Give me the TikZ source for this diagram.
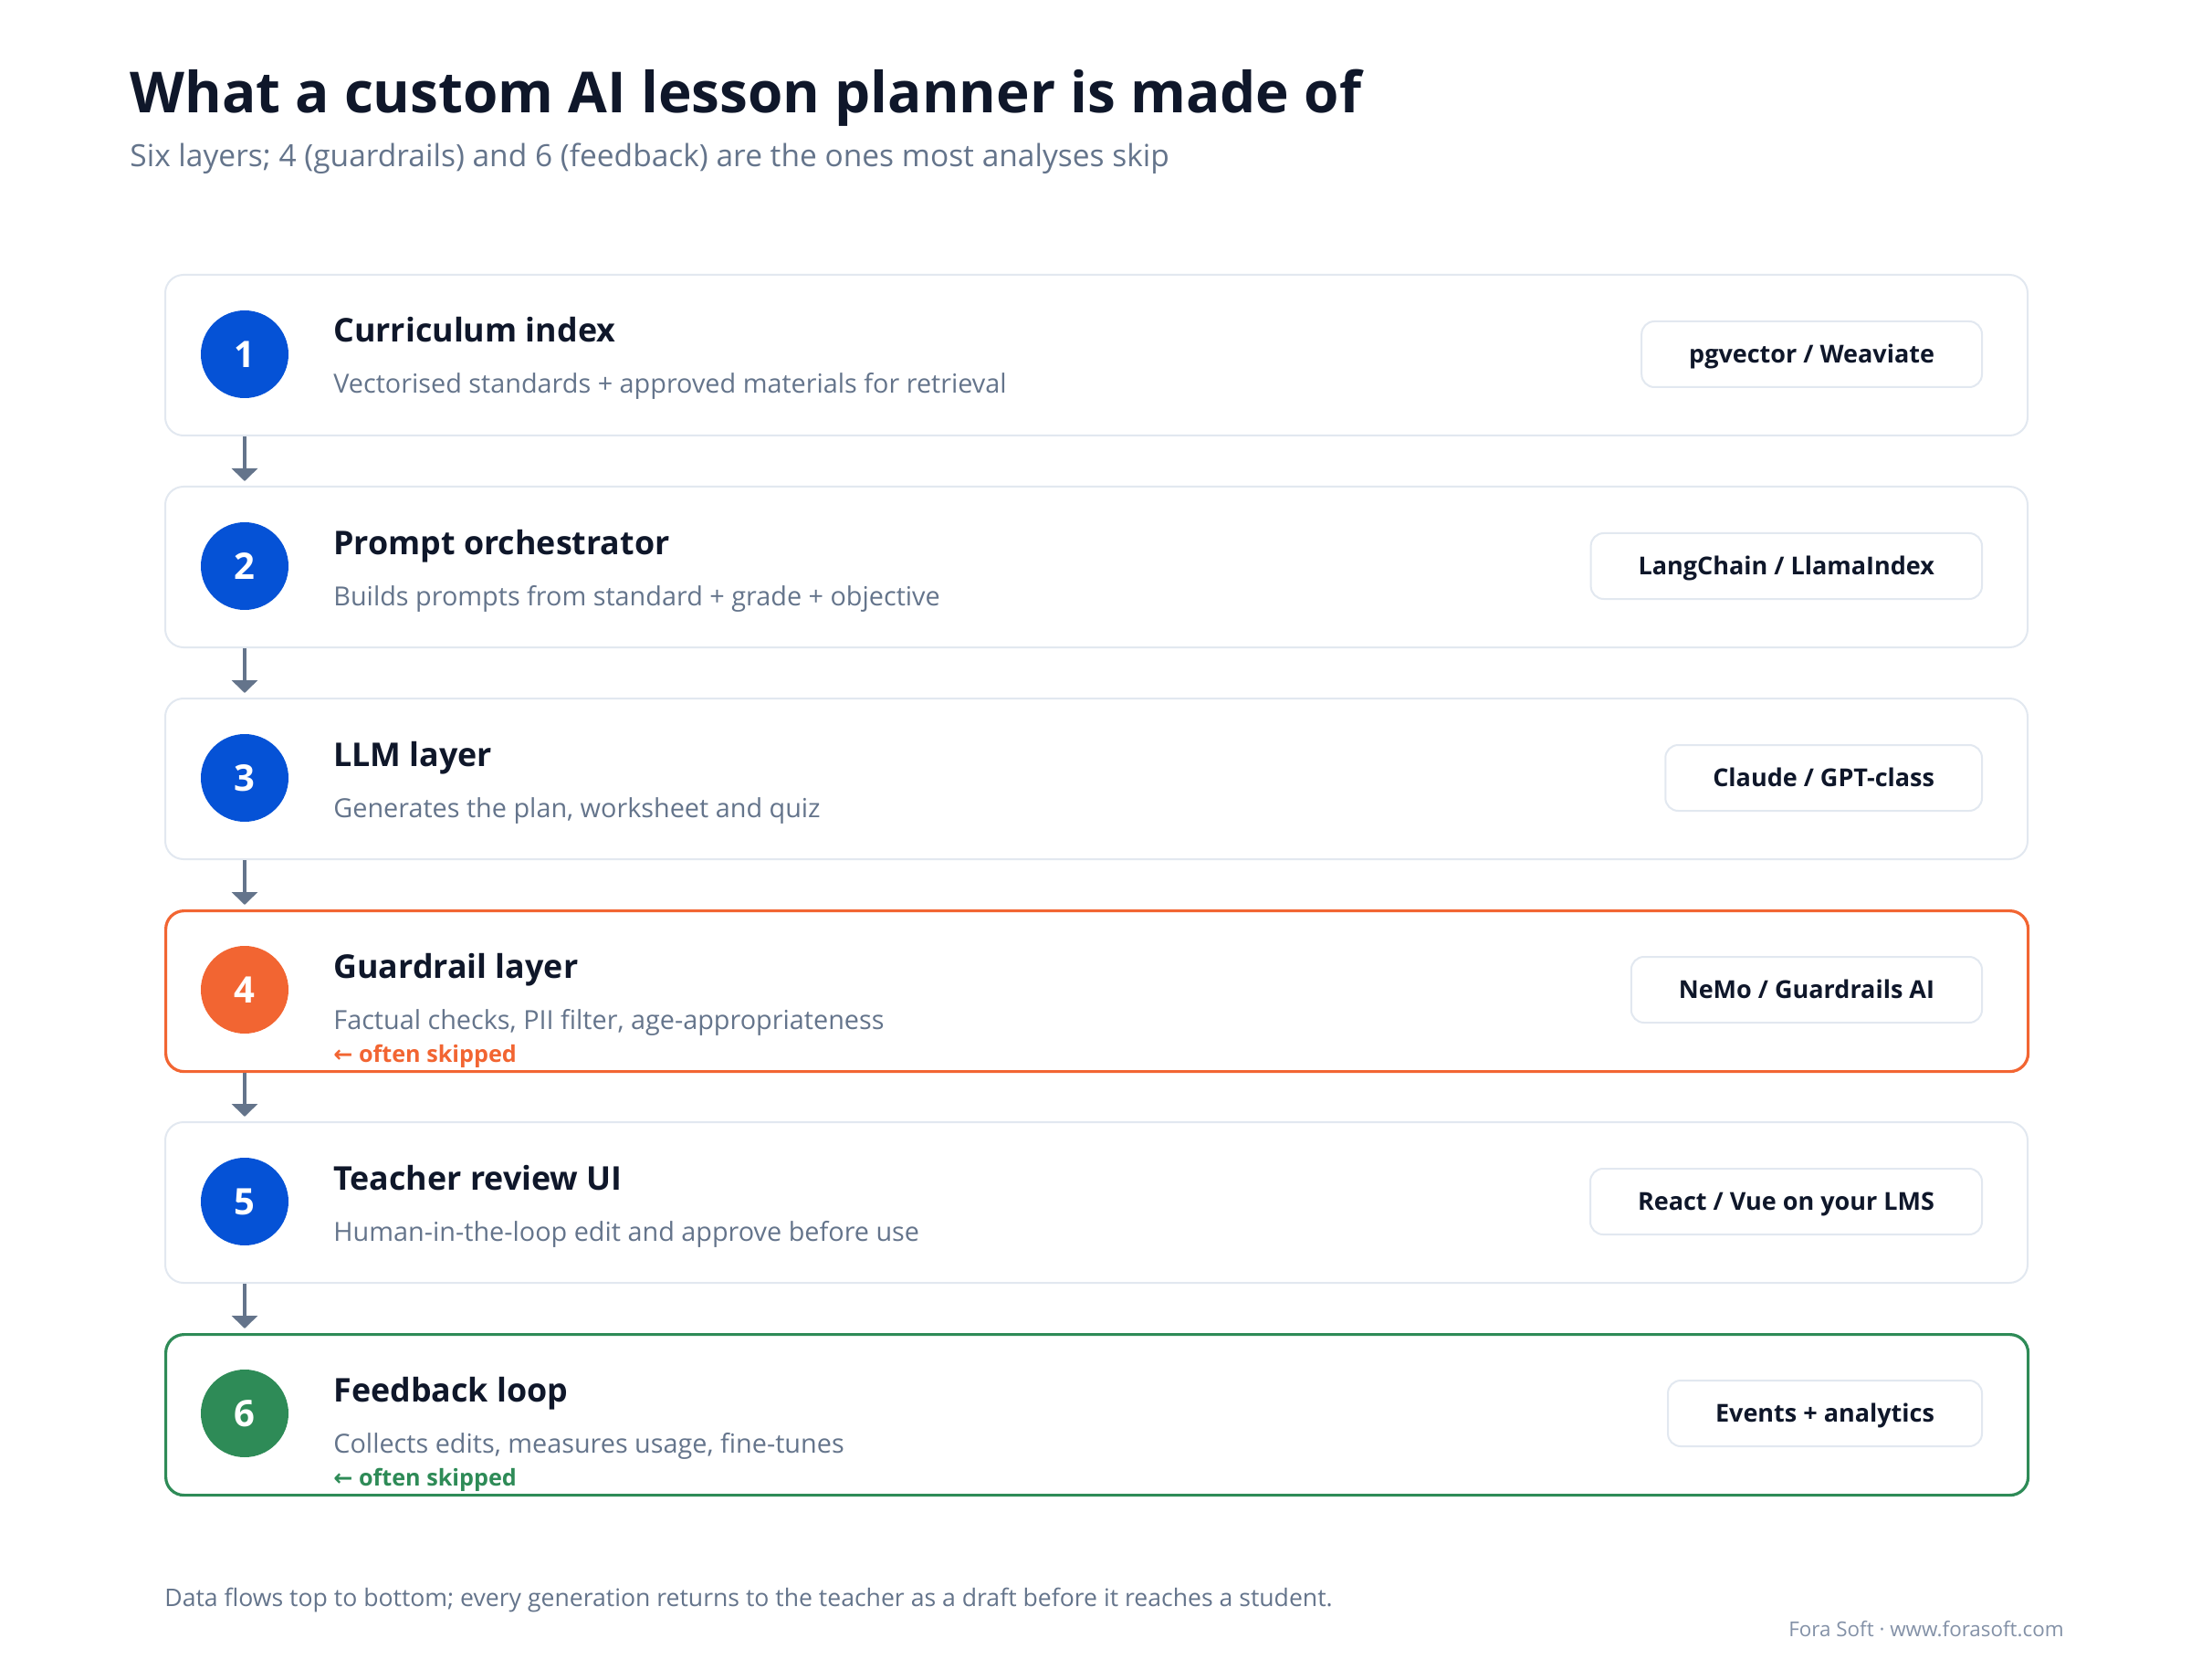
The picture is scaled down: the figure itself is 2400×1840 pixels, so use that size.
\documentclass[tikz,border=0pt]{standalone}
\usepackage{fontspec}
\setmainfont{Open Sans}
\newfontfamily\symfont{DejaVu Sans}
\usetikzlibrary{arrows.meta}
\definecolor{ink}{HTML}{0F172A}
\definecolor{slate}{HTML}{64748B}
\definecolor{softslate}{HTML}{8391A7}
\definecolor{cardline}{HTML}{E2E8F0}
\definecolor{blue1}{RGB}{5,82,214}
\definecolor{orange4}{RGB}{242,101,50}
\definecolor{green6}{RGB}{46,139,87}
\tikzset{
 card/.style={rectangle, rounded corners=10pt, minimum width=1020pt, minimum height=88pt, anchor=north west, inner sep=0pt, fill=white},
 cardplain/.style={card, draw=cardline, line width=1pt},
 cardorange/.style={card, draw=orange4, line width=1.6pt},
 cardgreen/.style={card, draw=green6, line width=1.6pt},
 numdot/.style={circle, minimum size=48pt, inner sep=0pt, text=white, font=\bfseries\fontsize{20}{20}\selectfont, text height=14.3pt, text depth=0pt},
 ltitle/.style={anchor=base west, inner sep=0pt, text=ink, font=\bfseries\fontsize{17.9}{20}\selectfont},
 ldesc/.style={anchor=base west, inner sep=0pt, text=slate, font=\fontsize{14.4}{16}\selectfont},
 pillbox/.style={rectangle, rounded corners=7pt, draw=cardline, line width=1pt, fill=white, inner xsep=26pt, inner ysep=0pt, minimum height=36pt, anchor=east, text=ink, font=\bfseries\fontsize{13.5}{15}\selectfont, text height=9.7pt, text depth=0pt},
 flow/.style={draw=slate, line width=2pt, -{Triangle[width=14pt,length=7pt]}},
 skipnote/.style={anchor=base west, inner sep=0pt, font=\bfseries\fontsize{12.6}{14}\selectfont},
}
\newcommand\layercard[7]{%
 \node[#3] (card#1) at (180,#2) {};
 \node[numdot, fill=#4] (num#1) at (268,#2+88) {#1};
 \node[ltitle] (title#1) at (365,#2+75) {#5};
 \node[ldesc] (desc#1) at (365,#2+131) {#6};
 \node[pillbox] (pill#1) at (2172,#2+88) {#7};
}
\begin{document}
\begin{tikzpicture}[x=0.5pt,y=-0.5pt]
\useasboundingbox[fill=white] (0,0) rectangle (2400,1840);
\node[anchor=base west, inner sep=0pt, text=ink, font=\bfseries\fontsize{31}{35}\selectfont] (maintitle) at (142,124) {What a custom AI lesson planner is made of};
\node[anchor=base west, inner sep=0pt, text=slate, font=\fontsize{16.75}{19}\selectfont] (subtitle) at (142,183) {Six layers; 4 (guardrails) and 6 (feedback) are the ones most analyses skip};

\layercard{1}{300}{cardplain}{blue1}{Curriculum index}{Vectorised standards + approved materials for retrieval}{pgvector / Weaviate}
\layercard{2}{532}{cardplain}{blue1}{Prompt orchestrator}{Builds prompts from standard + grade + objective}{LangChain / LlamaIndex}
\layercard{3}{764}{cardplain}{blue1}{LLM layer}{Generates the plan, worksheet and quiz}{Claude / GPT-class}
\layercard{4}{996}{cardorange}{orange4}{Guardrail layer}{Factual checks, PII filter, age-appropriateness}{NeMo / Guardrails AI}
\layercard{5}{1228}{cardplain}{blue1}{Teacher review UI}{Human-in-the-loop edit and approve before use}{React / Vue on your LMS}
\layercard{6}{1460}{cardgreen}{green6}{Feedback loop}{Collects edits, measures usage, fine-tunes}{Events + analytics}

\node[skipnote, text=orange4] (skip4) at (365,1163) {{\symfont\bfseries ←} often skipped};
\node[skipnote, text=green6] (skip6) at (365,1627) {{\symfont\bfseries ←} often skipped};

\draw[flow] (num1 |- card1.south) -- ([yshift=2.5pt]num2 |- card2.north);
\draw[flow] (num2 |- card2.south) -- ([yshift=2.5pt]num3 |- card3.north);
\draw[flow] (num3 |- card3.south) -- ([yshift=2.5pt]num4 |- card4.north);
\draw[flow] (num4 |- card4.south) -- ([yshift=2.5pt]num5 |- card5.north);
\draw[flow] (num5 |- card5.south) -- ([yshift=2.5pt]num6 |- card6.north);

\node[anchor=base west, inner sep=0pt, text=slate, font=\fontsize{13.3}{15}\selectfont] (footnote) at (180,1759) {Data flows top to bottom; every generation returns to the teacher as a draft before it reaches a student.};
\node[anchor=base east, inner sep=0pt, text=softslate, font=\fontsize{11.2}{13}\selectfont] (credit) at (2261,1792) {Fora Soft · www.forasoft.com};
\end{tikzpicture}
\end{document}
